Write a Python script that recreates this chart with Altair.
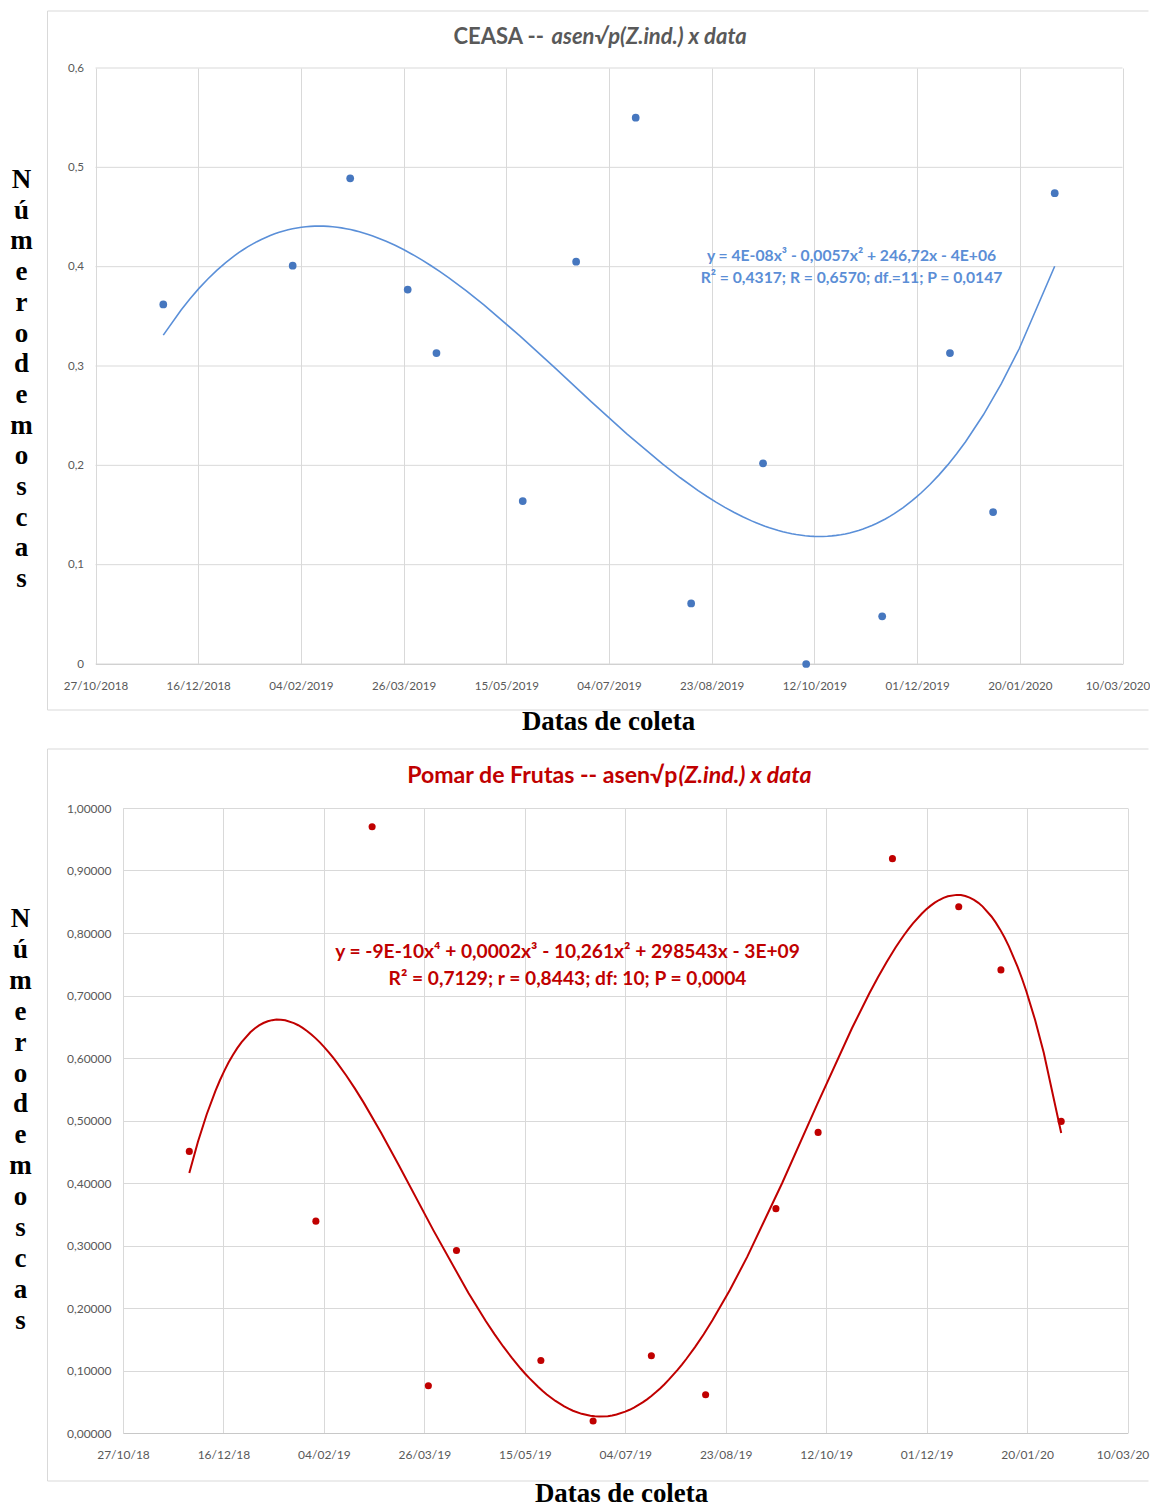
import json
import altair as alt
import pandas as pd

# ---------------- data ----------------
collection_dates = ["2018-11-29", "2019-01-31", "2019-02-28", "2019-03-28", "2019-04-11",
                    "2019-05-23", "2019-06-18", "2019-07-17", "2019-08-13", "2019-09-17",
                    "2019-10-08", "2019-11-14", "2019-12-17", "2020-01-07", "2020-02-06"]
ceasa_values = [0.362, 0.401, 0.489, 0.377, 0.313, 0.164, 0.405, 0.550, 0.061, 0.202,
                0.000, 0.048, 0.313, 0.153, 0.474]
pomar_values = [0.4506, 0.339, 0.970, 0.0757, 0.292, 0.116, 0.0192, 0.1237, 0.0613, 0.359,
                0.481, 0.919, 0.842, 0.741, 0.4986]

axis_start = "2018-10-27"
tick_step_days = 50
x_labels_long = ["27/10/2018", "16/12/2018", "04/02/2019", "26/03/2019", "15/05/2019",
                 "04/07/2019", "23/08/2019", "12/10/2019", "01/12/2019", "20/01/2020", "10/03/2020"]
x_labels_short = ["27/10/18", "16/12/18", "04/02/19", "26/03/19", "15/05/19",
                  "04/07/19", "23/08/19", "12/10/19", "01/12/19", "20/01/20", "10/03/20"]
y_ticks_ceasa = [0, 0.1, 0.2, 0.3, 0.4, 0.5, 0.6]
y_ticks_pomar = [0, 0.1, 0.2, 0.3, 0.4, 0.5, 0.6, 0.7, 0.8, 0.9, 1.0]

days = (pd.to_datetime(collection_dates) - pd.Timestamp(axis_start)).days
df_ceasa = pd.DataFrame({"day": days, "value": ceasa_values})
df_pomar = pd.DataFrame({"day": days, "value": pomar_values})
x_ticks = [i * tick_step_days for i in range(len(x_labels_long))]

LABEL_FONT = "Lato"
SERIF = "Liberation Serif"
GRID = "#D9D9D9"
AXIS_LINE = "#C8C8C8"
BLUE_PT = "#4677BF"
BLUE_LN = "#5A8FD8"
BLUE_TX = "#5B8ED6"
RED = "#C00000"
GRAY_T = "#595959"

y_title_letters = list("Númerodemoscas")


def note(text, x, y, size, color, weight="bold", style="normal", align="center",
         font=LABEL_FONT, baseline="middle"):
    return alt.Chart(alt.Data(values=[{}])).mark_text(
        text=text, fontSize=size, color=color, fontWeight=weight, fontStyle=style,
        align=align, baseline=baseline, font=font).encode(x=alt.value(x), y=alt.value(y))


def letter_column(x, y0, step, size):
    layers = [note(ch, x, y0 + i * step, size, "#000000", font=SERIF)
              for i, ch in enumerate(y_title_letters)]
    return alt.layer(*layers)


def rule_h(x1, x2, y):
    return alt.Chart(alt.Data(values=[{}])).mark_rule(color=GRID, strokeWidth=1).encode(
        x=alt.value(x1), x2=alt.value(x2), y=alt.value(y))


def rule_v(x, y1, y2):
    return alt.Chart(alt.Data(values=[{}])).mark_rule(color=GRID, strokeWidth=1).encode(
        x=alt.value(x), y=alt.value(y1), y2=alt.value(y2))


def box(left, top, right, bottom):
    return rule_h(left, right, top) + rule_h(left, right, bottom) + rule_v(left, top, bottom)


def encodings(y_max, y_ticks, y_fmt, zero_label, x_labels, x_range, label_size,
              y_offset, y_grid, last_shift):
    x_expr = json.dumps(x_labels) + "[round(datum.value/%d)]" % tick_step_days
    y_expr = "datum.value == 0 ? '%s' : replace(format(datum.value, '%s'), '.', ',')" % (zero_label, y_fmt)
    xs = alt.Scale(domain=[0, x_ticks[-1]], nice=False, zero=False)
    if x_range is not None:
        xs = alt.Scale(domain=[0, x_ticks[-1]], nice=False, zero=False, range=x_range)
    x_enc = alt.X("day:Q", scale=xs,
                  axis=alt.Axis(values=x_ticks, labelExpr=x_expr, title=None, grid=True,
                                gridColor=GRID, domainColor=AXIS_LINE, ticks=False,
                                labelPadding=16, labelFont=LABEL_FONT, labelFontSize=label_size,
                                labelColor=GRAY_T, labelFlush=False, labelOverlap=False,
                                labelOffset={"condition": {"test": "datum.value == %d" % x_ticks[-1],
                                                           "value": last_shift},
                                             "value": 0}))
    y_enc = alt.Y("value:Q", scale=alt.Scale(domain=[0, y_max], nice=False),
                  axis=alt.Axis(values=y_ticks, labelExpr=y_expr, title=None, grid=y_grid,
                                gridColor=GRID, domain=y_grid, domainColor=GRID, ticks=False,
                                offset=y_offset,
                                labelPadding=12, labelFont=LABEL_FONT, labelFontSize=label_size,
                                labelColor=GRAY_T))
    return x_enc, y_enc


# ---------------- chart 1: CEASA ----------------
# plot area spans x from -27.5 to 999.5 relative to the panel origin (shared with chart 2)
W1, H1 = 999.5, 596
x1, y1 = encodings(0.6, y_ticks_ceasa, ".1f", "0", x_labels_long, [-27.5, 999.5], 11.6,
                   27.5, False, -5)
ygrid1 = alt.Chart(pd.DataFrame({"value": y_ticks_ceasa})).mark_rule(
    color=GRID, strokeWidth=1).encode(y=y1, x=alt.value(-27.5), x2=alt.value(999.5))
curve1 = alt.Chart(df_ceasa).transform_regression(
    "day", "value", method="poly", order=3).mark_line(
    color=BLUE_LN, strokeWidth=1.6).encode(x=x1, y=y1)
pts1 = alt.Chart(df_ceasa).mark_circle(size=60, color=BLUE_PT, opacity=1).encode(x=x1, y=y1)

c1 = alt.layer(
    box(-75.5, -57, 1025.5, 642),
    ygrid1, curve1, pts1,
    note("CEASA --", 421, -31, 22, GRAY_T, align="right"),
    note("asen√p(Z.ind.)  x data", 428.5, -31, 22, GRAY_T, style="italic", align="left"),
    note("y = 4E-08x³ - 0,0057x² + 246,72x - 4E+06", 728.5, 188, 15.7, BLUE_TX),
    note("R² = 0,4317; R = 0,6570; df.=11; P = 0,0147", 728.5, 210, 15.7, BLUE_TX),
    letter_column(-101.5, 112, 30.7, 27),
    note("Datas de coleta", 485.5, 654, 26.9, "#000000", font=SERIF),
).properties(width=W1, height=H1)

# ---------------- chart 2: Pomar de Frutas ----------------
W2, H2 = 1004.5, 625
x2, y2 = encodings(1.0, y_ticks_pomar, ".5f", "0,00000", x_labels_short, None, 12,
                   0, True, -5)
curve2 = alt.Chart(df_pomar).transform_regression(
    "day", "value", method="poly", order=4).mark_line(
    color=RED, strokeWidth=2).encode(x=x2, y=y2)
pts2 = alt.Chart(df_pomar).mark_circle(size=50, color=RED, opacity=1).encode(x=x2, y=y2)

c2 = alt.layer(
    box(-75.5, -59, 1025.5, 673),
    curve2, pts2,
    note("Pomar de Frutas -- asen√p", 554.5, -32, 23.1, RED, align="right"),
    note("(Z.ind.) x data", 555.5, -32, 23.1, RED, style="italic", align="left"),
    note("y = -9E-10x⁴ + 0,0002x³ - 10,261x² + 298543x - 3E+09", 444.5, 144, 19.2, RED),
    note("R² = 0,7129; r = 0,8443; df: 10; P = 0,0004", 444.5, 171, 19.2, RED),
    letter_column(-102.5, 111, 30.9, 27),
    note("Datas de coleta", 498.5, 686, 26.9, "#000000", font=SERIF),
).properties(width=W2, height=H2)

chart = alt.concat(c1, c2, columns=1, spacing=13).properties(
    padding={"left": 1, "top": 2, "right": 0, "bottom": 0}
).configure(background="white").configure_view(stroke=None)

chart.save("out.html", embed_options={"renderer": "svg", "actions": False})
